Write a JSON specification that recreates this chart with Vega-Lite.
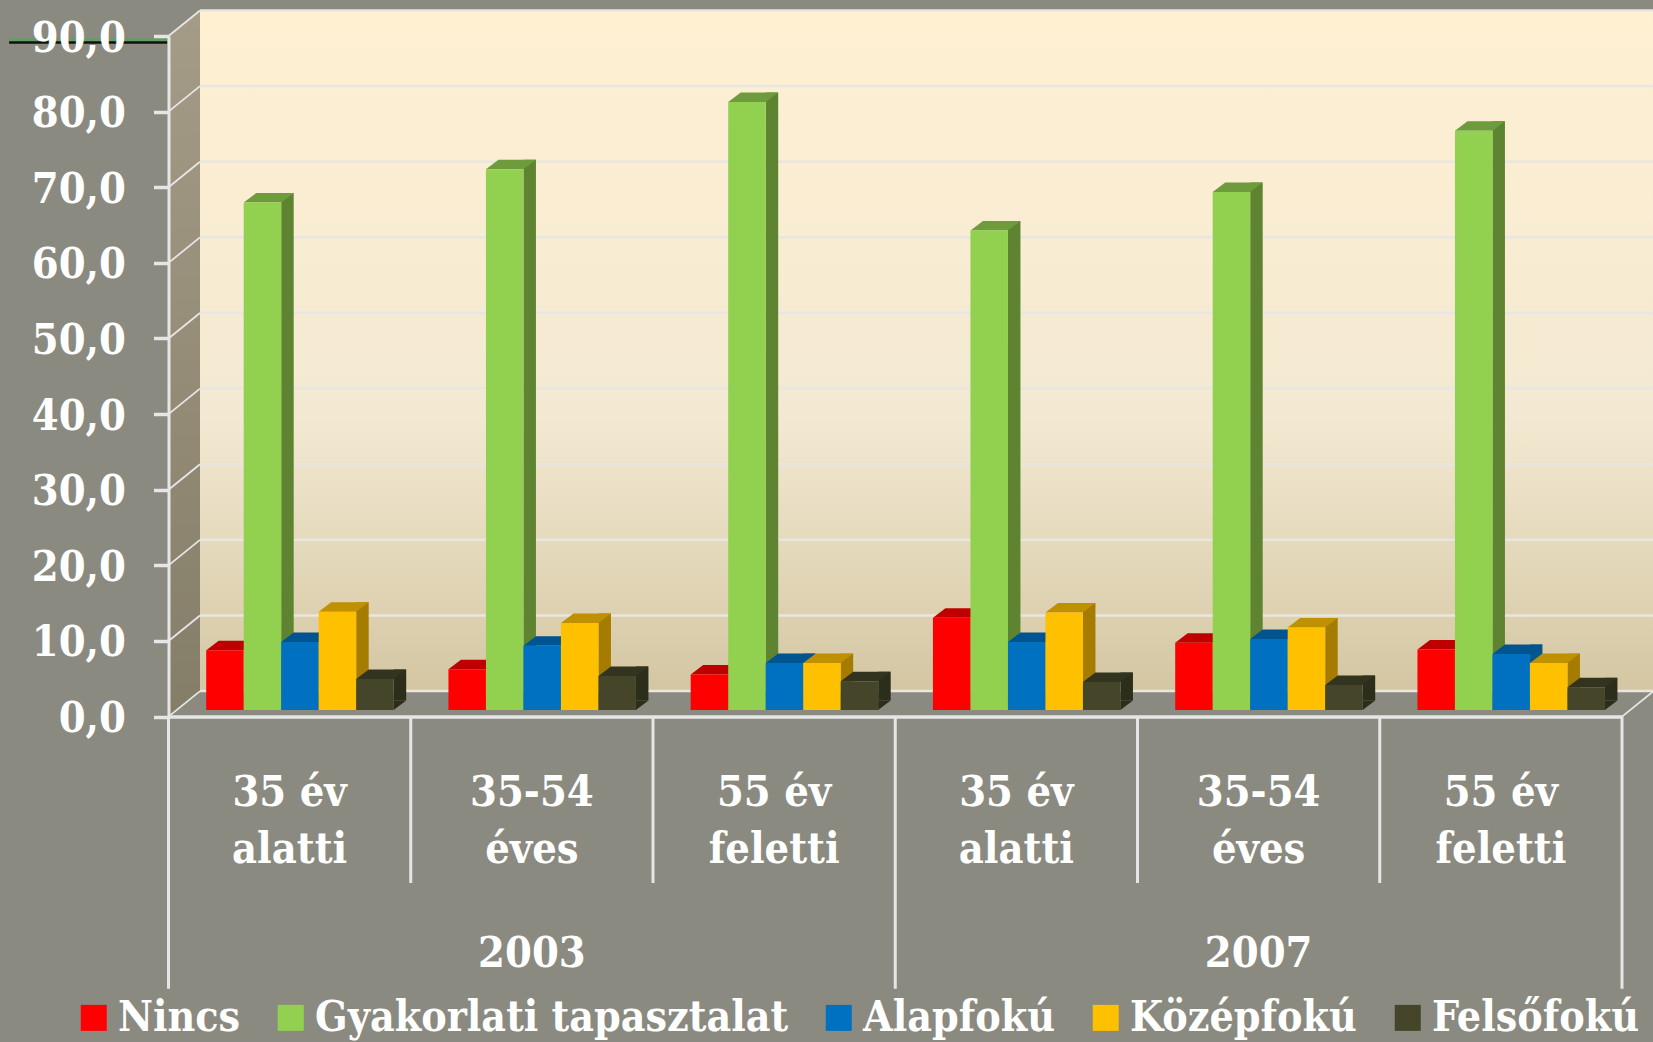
{
"$schema":"https://vega.github.io/schema/vega-lite/v6.json",
"width":1453.5,"height":680.6,
"autosize":{"type":"none"},
"padding":{"left":168.5,"top":36,"right":31,"bottom":325.4},
"background":"#8A8A80",
"config":{"view":{"stroke":null}},
"datasets":{
"bars":[
{"csoport":"2003|35 év|alatti","kepzettseg":"Nincs","ertek":7.9,"alap":0},
{"csoport":"2003|35 év|alatti","kepzettseg":"Gyakorlati tapasztalat","ertek":67.1,"alap":0},
{"csoport":"2003|35 év|alatti","kepzettseg":"Alapfokú","ertek":9.0,"alap":0},
{"csoport":"2003|35 év|alatti","kepzettseg":"Középfokú","ertek":13.0,"alap":0},
{"csoport":"2003|35 év|alatti","kepzettseg":"Felsőfokú","ertek":4.1,"alap":0},
{"csoport":"2003|35-54|éves","kepzettseg":"Nincs","ertek":5.4,"alap":0},
{"csoport":"2003|35-54|éves","kepzettseg":"Gyakorlati tapasztalat","ertek":71.5,"alap":0},
{"csoport":"2003|35-54|éves","kepzettseg":"Alapfokú","ertek":8.5,"alap":0},
{"csoport":"2003|35-54|éves","kepzettseg":"Középfokú","ertek":11.5,"alap":0},
{"csoport":"2003|35-54|éves","kepzettseg":"Felsőfokú","ertek":4.5,"alap":0},
{"csoport":"2003|55 év|feletti","kepzettseg":"Nincs","ertek":4.7,"alap":0},
{"csoport":"2003|55 év|feletti","kepzettseg":"Gyakorlati tapasztalat","ertek":80.4,"alap":0},
{"csoport":"2003|55 év|feletti","kepzettseg":"Alapfokú","ertek":6.2,"alap":0},
{"csoport":"2003|55 év|feletti","kepzettseg":"Középfokú","ertek":6.2,"alap":0},
{"csoport":"2003|55 év|feletti","kepzettseg":"Felsőfokú","ertek":3.8,"alap":0},
{"csoport":"2007|35 év|alatti","kepzettseg":"Nincs","ertek":12.2,"alap":0},
{"csoport":"2007|35 év|alatti","kepzettseg":"Gyakorlati tapasztalat","ertek":63.4,"alap":0},
{"csoport":"2007|35 év|alatti","kepzettseg":"Alapfokú","ertek":9.0,"alap":0},
{"csoport":"2007|35 év|alatti","kepzettseg":"Középfokú","ertek":12.9,"alap":0},
{"csoport":"2007|35 év|alatti","kepzettseg":"Felsőfokú","ertek":3.7,"alap":0},
{"csoport":"2007|35-54|éves","kepzettseg":"Nincs","ertek":8.9,"alap":0},
{"csoport":"2007|35-54|éves","kepzettseg":"Gyakorlati tapasztalat","ertek":68.5,"alap":0},
{"csoport":"2007|35-54|éves","kepzettseg":"Alapfokú","ertek":9.4,"alap":0},
{"csoport":"2007|35-54|éves","kepzettseg":"Középfokú","ertek":10.9,"alap":0},
{"csoport":"2007|35-54|éves","kepzettseg":"Felsőfokú","ertek":3.3,"alap":0},
{"csoport":"2007|55 év|feletti","kepzettseg":"Nincs","ertek":8.0,"alap":0},
{"csoport":"2007|55 év|feletti","kepzettseg":"Gyakorlati tapasztalat","ertek":76.6,"alap":0},
{"csoport":"2007|55 év|feletti","kepzettseg":"Alapfokú","ertek":7.4,"alap":0},
{"csoport":"2007|55 év|feletti","kepzettseg":"Középfokú","ertek":6.2,"alap":0},
{"csoport":"2007|55 év|feletti","kepzettseg":"Felsőfokú","ertek":3.0,"alap":0}
]},
"resolve":{"scale":{"x":"independent","xOffset":"independent","color":"independent"},"axis":{"x":"independent","y":"independent"}},
"layer":[
{"data":{"values":[{"a":0,"b":6,"lo":0,"hi":90}]},
 "mark":{"type":"rect","xOffset":31.5,"x2Offset":31.5,"yOffset":-25.5,"y2Offset":-25.5,
  "color":{"gradient":"linear","x1":0,"y1":0,"x2":0,"y2":1,"stops":[{"offset":0,"color":"#FFF0D2"},{"offset":0.6,"color":"#F3E9D2"},{"offset":0.85,"color":"#E0D4B5"},{"offset":1,"color":"#D4C6A2"}]}},
 "encoding":{"x":{"field":"a","type":"quantitative","axis":null,"scale":{"domain":[0,6],"nice":false}},"x2":{"field":"b"},
  "y":{"field":"lo","type":"quantitative","axis":null,"scale":{"domain":[0,90],"nice":false}},
  "y2":{"field":"hi"}}},
{"data":{"values":[{"a":0,"lo":0,"hi":90},{"a":0.13,"lo":3.37,"hi":93.37}]},
 "mark":{"type":"area","interpolate":"linear","color":{"gradient":"linear","x1":0,"y1":0,"x2":0,"y2":1,"stops":[{"offset":0,"color":"#A59C87"},{"offset":1,"color":"#847D68"}]}},
 "encoding":{"x":{"field":"a","type":"quantitative","axis":null,"scale":{"domain":[0,6],"nice":false}},
  "y":{"field":"lo","type":"quantitative","axis":null,"scale":{"domain":[0,90],"nice":false}},"y2":{"field":"hi"}}},
{"data":{"values":[{"a":0,"b":6,"e":0},{"a":0,"b":6,"e":10},{"a":0,"b":6,"e":20},{"a":0,"b":6,"e":30},{"a":0,"b":6,"e":40},{"a":0,"b":6,"e":50},{"a":0,"b":6,"e":60},{"a":0,"b":6,"e":70},{"a":0,"b":6,"e":80},{"a":0,"b":6,"e":90}]},
 "mark":{"type":"rule","color":"#E8E6E0","strokeWidth":2.5,"xOffset":31.5,"x2Offset":31.5,"yOffset":-25.5},
 "encoding":{"x":{"field":"a","type":"quantitative","axis":null,"scale":{"domain":[0,6],"nice":false}},"x2":{"field":"b"},
  "y":{"field":"e","type":"quantitative","axis":null,"scale":{"domain":[0,90],"nice":false}}}},
{"data":{"values":[{"a":0,"b":0.13,"e":0,"f":3.37},{"a":0,"b":0.13,"e":10,"f":13.37},{"a":0,"b":0.13,"e":20,"f":23.37},{"a":0,"b":0.13,"e":30,"f":33.37},{"a":0,"b":0.13,"e":40,"f":43.37},{"a":0,"b":0.13,"e":50,"f":53.37},{"a":0,"b":0.13,"e":60,"f":63.37},{"a":0,"b":0.13,"e":70,"f":73.37},{"a":0,"b":0.13,"e":80,"f":83.37},{"a":0,"b":0.13,"e":90,"f":93.37},{"a":6,"b":6.13,"e":0,"f":3.37}]},
 "mark":{"type":"rule","color":"#E6E6E6","strokeWidth":1.8},
 "encoding":{"x":{"field":"a","type":"quantitative","axis":null,"scale":{"domain":[0,6],"nice":false}},"x2":{"field":"b"},
  "y":{"field":"e","type":"quantitative","axis":null,"scale":{"domain":[0,90],"nice":false}},"y2":{"field":"f"}}},
{"data":{"values":[{"a":-0.658,"b":-0.005,"e":89.5}]},
 "mark":{"type":"rule","color":"#5FA060","strokeWidth":2.7},
 "encoding":{"x":{"field":"a","type":"quantitative","axis":null,"scale":{"domain":[0,6],"nice":false}},"x2":{"field":"b"},
  "y":{"field":"e","type":"quantitative","axis":null,"scale":{"domain":[0,90],"nice":false}}}},
{"data":{"values":[{"a":-0.658,"b":-0.005,"e":89.14}]},
 "mark":{"type":"rule","color":"#111111","strokeWidth":2.5},
 "encoding":{"x":{"field":"a","type":"quantitative","axis":null,"scale":{"domain":[0,6],"nice":false}},"x2":{"field":"b"},
  "y":{"field":"e","type":"quantitative","axis":null,"scale":{"domain":[0,90],"nice":false}}}},
{"data":{"values":[{"a":0,"e":0,"f":-36},{"a":1,"e":0,"f":-22},{"a":2,"e":0,"f":-22},{"a":3,"e":0,"f":-36},{"a":4,"e":0,"f":-22},{"a":5,"e":0,"f":-22},{"a":6,"e":0,"f":-36}]},
 "mark":{"type":"rule","color":"#E6E6E6","strokeWidth":3},
 "encoding":{"x":{"field":"a","type":"quantitative","axis":null,"scale":{"domain":[0,6],"nice":false}},
  "y":{"field":"e","type":"quantitative","axis":null,"scale":{"domain":[0,90],"nice":false}},"y2":{"field":"f"}}},
{"data":{"values":[{"ev":"2003","a":1.5,"e":-31.4},{"ev":"2007","a":4.5,"e":-31.4}]},
 "mark":{"type":"text","font":"DejaVu Serif Condensed","fontWeight":"bold","fontSize":43,"color":"#FFFFFF","baseline":"middle"},
 "encoding":{"x":{"field":"a","type":"quantitative","axis":null,"scale":{"domain":[0,6],"nice":false}},
  "y":{"field":"e","type":"quantitative","axis":null,"scale":{"domain":[0,90],"nice":false}},"text":{"field":"ev"}}},
{"data":{"name":"bars"},
 "mark":{"type":"bar","yOffset":-16.1,"y2Offset":-16.1},
 "encoding":{"x":{"field":"csoport","type":"nominal","sort":null,"axis":null,"scale":{"paddingInner":0,"paddingOuter":0}},
  "xOffset":{"field":"kepzettseg","type":"nominal","sort":null,"scale":{"type":"band","domain":["Nincs","Gyakorlati tapasztalat","Alapfokú","Középfokú","Felsőfokú"],"range":[75.2,237.7],"paddingInner":0.6667,"paddingOuter":0}},
  "y":{"field":"ertek","type":"quantitative","stack":null,"axis":null,"scale":{"domain":[0,90],"nice":false}},"y2":{"field":"alap"},
  "color":{"field":"kepzettseg","type":"nominal","sort":null,"legend":null,"scale":{"domain":["Nincs","Gyakorlati tapasztalat","Alapfokú","Középfokú","Felsőfokú"],"range":["#A80000","#5E8432","#00568F","#A67C00","#2C2D1A"]}}}},
{"data":{"name":"bars"},
 "mark":{"type":"point","filled":true,"opacity":1,"strokeWidth":0,"size":10000,"yOffset":-6.6,"shape":"M0.375,-0.19L0.625,-0.19L0.375,0Z"},
 "encoding":{"x":{"field":"csoport","type":"nominal","sort":null,"axis":null,"scale":{"paddingInner":0,"paddingOuter":0}},
  "xOffset":{"field":"kepzettseg","type":"nominal","sort":null,"scale":{"type":"band","domain":["Nincs","Gyakorlati tapasztalat","Alapfokú","Középfokú","Felsőfokú"],"range":[37.7,225.2],"padding":0}},
  "y":{"field":"alap","type":"quantitative","axis":null,"scale":{"domain":[0,90],"nice":false}},
  "color":{"field":"kepzettseg","type":"nominal","sort":null,"legend":null,"scale":{"domain":["Nincs","Gyakorlati tapasztalat","Alapfokú","Középfokú","Felsőfokú"],"range":["#A80000","#5E8432","#00568F","#A67C00","#2C2D1A"]}}}},
{"data":{"name":"bars"},
 "mark":{"type":"point","filled":true,"opacity":1,"strokeWidth":0,"size":10000,"yOffset":-6.6,"shape":"M-0.375,0L0.375,0L0.625,-0.19L-0.125,-0.19Z"},
 "encoding":{"x":{"field":"csoport","type":"nominal","sort":null,"axis":null,"scale":{"paddingInner":0,"paddingOuter":0}},
  "xOffset":{"field":"kepzettseg","type":"nominal","sort":null,"scale":{"type":"band","domain":["Nincs","Gyakorlati tapasztalat","Alapfokú","Középfokú","Felsőfokú"],"range":[37.7,225.2],"padding":0}},
  "y":{"field":"ertek","type":"quantitative","axis":null,"scale":{"domain":[0,90],"nice":false}},
  "color":{"field":"kepzettseg","type":"nominal","sort":null,"legend":null,"scale":{"domain":["Nincs","Gyakorlati tapasztalat","Alapfokú","Középfokú","Felsőfokú"],"range":["#BF0000","#6E9C3C","#005490","#BF9000","#33341F"]}}}},
{"data":{"name":"bars"},
 "mark":{"type":"bar","yOffset":-6.6,"y2Offset":-6.6},
 "encoding":{"x":{"field":"csoport","type":"nominal","sort":null,"title":null,"scale":{"paddingInner":0,"paddingOuter":0},
   "axis":{"labelExpr":"slice(split(datum.label,'|'),1)","labelAngle":0,"labelFont":"DejaVu Serif Condensed","labelFontWeight":"bold","labelFontSize":43,"labelColor":"#FFFFFF","labelLineHeight":57,"labelLimit":0,"labelPadding":55,"labelBaseline":"top","labelOverlap":false,"ticks":false,"domainColor":"#E6E6E6","domainWidth":3.5,"zindex":1}},
  "xOffset":{"field":"kepzettseg","type":"nominal","sort":null,"scale":{"type":"band","domain":["Nincs","Gyakorlati tapasztalat","Alapfokú","Középfokú","Felsőfokú"],"range":[37.7,225.2],"padding":0}},
  "y":{"field":"ertek","type":"quantitative","stack":null,"title":null,"scale":{"domain":[0,90],"nice":false},
   "axis":{"values":[0,10,20,30,40,50,60,70,80,90],"labelExpr":"replace(format(datum.value,'.1f'),'.',',')","grid":false,"zindex":1,"domainColor":"#E6E6E6","domainWidth":3,"tickColor":"#E6E6E6","tickWidth":3.5,"tickSize":15,"labelFont":"DejaVu Serif Condensed","labelFontWeight":"bold","labelFontSize":43,"labelColor":"#FFFFFF","labelPadding":28,"labelOffset":2}},
  "y2":{"field":"alap"},
  "color":{"field":"kepzettseg","type":"nominal","sort":null,"scale":{"domain":["Nincs","Gyakorlati tapasztalat","Alapfokú","Középfokú","Felsőfokú"],"range":["#FF0000","#92D050","#0070C0","#FFC000","#444529"]},
   "legend":{"title":null,"orient":"none","legendX":-96,"legendY":960.5,"direction":"horizontal","columns":5,"columnPadding":29,"symbolType":"square","symbolSize":676,"symbolStrokeWidth":0,"labelFont":"DejaVu Serif Condensed","labelFontWeight":"bold","labelFontSize":42.5,"labelColor":"#FFFFFF","labelOffset":3,"labelLimit":0,"padding":0}}}}
]
}
